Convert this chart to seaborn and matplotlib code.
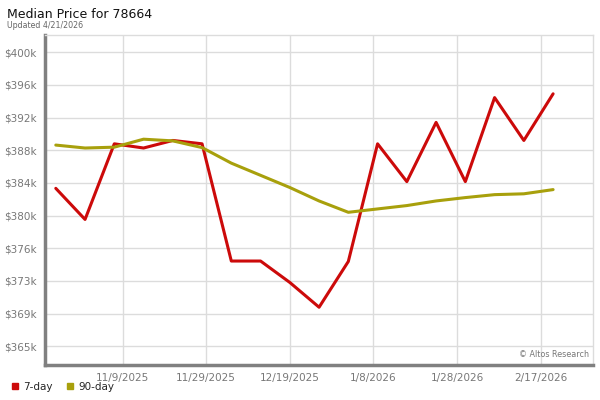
import pandas as pd
import numpy as np
import matplotlib
matplotlib.use("Agg")
import matplotlib.pyplot as plt
import seaborn as sns
from matplotlib.lines import Line2D

# weekly data points
dates = pd.date_range("2025-10-24", periods=18, freq="7D")
price_7day = [383800, 380100, 389100, 388600, 389500, 389100, 375150, 375150, 372600,
              369650, 375100, 389100, 384600, 391650, 384600, 394600, 389500, 395050]
price_90day = [388950, 388600, 388700, 389650, 389450, 388650, 386800, 385350, 383900,
               382300, 380950, 381350, 381750, 382300, 382700, 383050, 383150, 383650]

y_ticks = np.linspace(365000, 400000, 10)
y_labels = ["$365k", "$369k", "$373k", "$376k", "$380k", "$384k", "$388k", "$392k", "$396k", "$400k"]
x_ticks = pd.to_datetime(["2025-11-09", "2025-11-29", "2025-12-19", "2026-01-08", "2026-01-28", "2026-02-17"])
x_labels = ["11/9/2025", "11/29/2025", "12/19/2025", "1/8/2026", "1/28/2026", "2/17/2026"]

red = "#cc0a0a"
olive = "#a8a00c"

df = pd.DataFrame({"date": dates, "7-day": price_7day, "90-day": price_90day})
long = df.melt(id_vars="date", var_name="series", value_name="price")

sns.set_style("white")
fig = plt.figure(figsize=(6, 4), dpi=100)
ax = fig.add_axes([0.075, 0.088, 0.913, 0.8245])

sns.lineplot(data=long, x="date", y="price", hue="series", palette={"7-day": red, "90-day": olive},
             linewidth=2.2, ax=ax, legend=False)

ax.set_xlim(pd.Timestamp("2025-10-21 10:00"), pd.Timestamp("2026-03-01 12:00"))
ax.set_ylim(362800, 402050)
ax.set_yticks(y_ticks)
ax.set_yticklabels(y_labels)
ax.set_xticks(x_ticks)
ax.set_xticklabels(x_labels)
ax.set_xlabel("")
ax.set_ylabel("")
ax.tick_params(axis="both", length=0, labelsize=7.5, labelcolor="#777777", pad=6)
ax.grid(True, color="#dcdcdc", linewidth=1)
ax.set_axisbelow(True)

for side in ["top", "right"]:
    ax.spines[side].set_color("#dcdcdc")
    ax.spines[side].set_linewidth(1)
for side in ["left", "bottom"]:
    ax.spines[side].set_color("#808080")
    ax.spines[side].set_linewidth(2.5)

fig.text(0.012, 0.965, "Median Price for 78664", fontsize=9, color="#111111", va="center")
fig.text(0.012, 0.937, "Updated 4/21/2026", fontsize=5.7, color="#666666", va="center")
ax.text(0.993, 0.018, "© Altos Research", transform=ax.transAxes, fontsize=5.8,
        color="#777777", ha="right", va="bottom")

handles = [Line2D([], [], marker="s", linestyle="", color=red, markersize=5),
           Line2D([], [], marker="s", linestyle="", color=olive, markersize=5)]
fig.legend(handles, ["7-day", "90-day"], loc="lower left", bbox_to_anchor=(0.0, -0.003),
           ncol=2, frameon=False, fontsize=7.5, handletextpad=0.3, columnspacing=1.2,
           handlelength=1.0)

fig.savefig("out.png", dpi=100)
